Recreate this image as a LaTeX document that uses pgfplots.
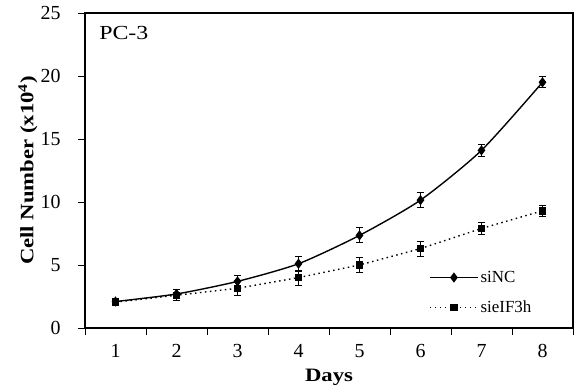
\documentclass[border=0pt]{standalone}
\usepackage{pgfplots}
\pgfplotsset{compat=1.18}
\usepackage{fontspec}
\setmainfont{Liberation Serif}
\newfontfamily\wide[FakeStretch=1.2]{Liberation Serif}
\begin{document}
\begin{tikzpicture}[x=1bp,y=1bp]
\begin{axis}[
  name=main,
  scale only axis,
  width=488bp, height=315bp,
  xmin=0.5, xmax=8.5, ymin=0, ymax=25,
  xtick={1,...,8},
  major x tick style={draw=none},
  minor xtick={0.5,1.5,...,8.5},
  ytick={0,5,...,25},
  yticklabel={\pgfmathprintnumber{\tick}\hspace*{14bp}},
  tick align=outside,
  tick pos=left,
  major tick length=7bp, minor tick length=7bp,
  tick label style={font=\fontsize{20}{24}\selectfont},
  xticklabel style={anchor=center, yshift=-16bp},
  /pgf/number format/assume math mode=true,
  xlabel={\textbf{Days}},
  ylabel={\textbf{Cell Number (x10\textsuperscript{4})}},
  label style={font=\wide\fontsize{19}{22}\selectfont},
  xlabel style={at={(rel axis cs:0.5,0)}, anchor=center, yshift=-49bp},
  ylabel style={at={(rel axis cs:0,0.5)}, anchor=center, yshift=57bp},
  axis line style={line width=1.2pt},
  every tick/.style={line width=0.8pt, black},
  legend style={draw=none, fill=none, at={(rel axis cs:0.705,0.037)}, anchor=south west, font=\fontsize{17}{20}\selectfont, row sep=13bp, inner sep=0pt},
  legend cell align=left,
  legend image code/.code={\draw[mark repeat=2,mark phase=2,#1] plot coordinates {(0bp,0bp) (24bp,0bp) (48bp,0bp)};},
]
\addplot[black, line width=1.4pt, smooth, tension=0.4, mark=diamond*, mark size=4bp,
  error bars/.cd, y dir=both, y explicit, error mark options={rotate=90, mark size=3.5bp, line width=1pt}, error bar style={line width=1pt}]
  coordinates {
  (1,2.1) +- (0,0.25)
  (2,2.7) +- (0,0.35)
  (3,3.7) +- (0,0.5)
  (4,5.1) +- (0,0.6)
  (5,7.35) +- (0,0.6)
  (6,10.15) +- (0,0.6)
  (7,14.1) +- (0,0.45)
  (8,19.5) +- (0,0.45)
  };
\addlegendentry{siNC}
\addplot[black, line width=1.4pt, dash pattern=on 1.5bp off 3.5bp, mark=square*, mark size=3bp, mark options={solid},
  error bars/.cd, y dir=both, y explicit, error mark options={rotate=90, mark size=3.5bp, line width=1pt, solid}, error bar style={line width=1pt, solid}]
  coordinates {
  (1,2.05) +- (0,0.2)
  (2,2.6) +- (0,0.45)
  (3,3.15) +- (0,0.6)
  (4,4.0) +- (0,0.6)
  (5,5.0) +- (0,0.6)
  (6,6.3) +- (0,0.6)
  (7,7.9) +- (0,0.45)
  (8,9.3) +- (0,0.45)
  };
\addlegendentry{sieIF3h}
\node[anchor=west, font=\wide\fontsize{20}{24}\selectfont] at (rel axis cs:0.022,0.935) {PC-3};
\coordinate (ll) at (rel axis cs:0,0);
\end{axis}
\pgfresetboundingbox
\path ([shift={(-85bp,-63bp)}]ll) rectangle ([shift={(490bp,328bp)}]ll);
\end{tikzpicture}
\end{document}
